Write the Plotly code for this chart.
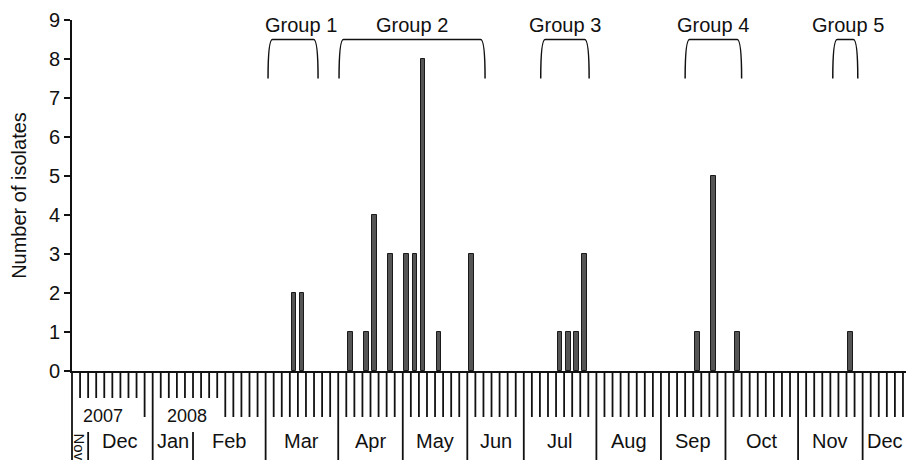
import plotly.graph_objects as go

# ---- data ----
months = ["Nov", "Dec", "Jan", "Feb", "Mar", "Apr", "May", "Jun", "Jul",
          "Aug", "Sep", "Oct", "Nov", "Dec"]
slots_per_month = [2, 8, 5, 9, 9, 8, 8, 7, 9, 8, 8, 9, 8, 5.5]
years = ["2007", "2008"]
year_slot = [3.9, 14.2]

# sampling slot (index along time axis) and number of isolates
isolate_slot = [27, 28, 34, 36, 37, 39, 41, 42, 43, 45, 49, 60, 61, 62, 63, 77, 79, 82, 96]
isolate_count = [2, 2, 1, 1, 4, 3, 3, 3, 8, 1, 3, 1, 1, 1, 3, 1, 5, 1, 1]

group_names = ["Group 1", "Group 2", "Group 3", "Group 4", "Group 5"]
group_start = [24.3, 33.1, 58.1, 76.0, 94.3]
group_end = [30.5, 51.2, 64.1, 83.0, 97.4]
group_label_x = [28.4, 42.1, 61.1, 79.5, 96.2]

# ---- layout constants (page body has an 8px margin) ----
W, H = 906, 452
ML, MR, MT, MB = 64, 7, 12, 89
PH = H - MT - MB
FONT = "Liberation Sans, Arial, sans-serif"
BOTTOM = 89  # px from axis to bottom of window


def below(px):
    return -px / PH


boundaries = []
acc = 0
for n in slots_per_month[:-1]:
    acc += n
    boundaries.append(acc)
total = sum(slots_per_month)

fig = go.Figure()
fig.add_trace(go.Bar(
    x=[s + 0.5 for s in isolate_slot], y=isolate_count, width=0.58,
    marker=dict(color="#555555", line=dict(color="#1a1a1a", width=1)),
    hoverinfo="x+y", showlegend=False))

shapes = []
line_style = dict(color="#111111", width=1.8)
short_ranges = set(list(range(1, 9)) + list(range(11, 19)))
partial_bounds = {2, 15}
for k in range(1, int(total) + 1):
    if k in boundaries and k not in partial_bounds:
        shapes.append(dict(type="line", xref="x", yref="paper", x0=k, x1=k,
                           y0=0, y1=below(BOTTOM), line=line_style))
        continue
    ln = 27 if k in short_ranges else 46
    shapes.append(dict(type="line", xref="x", yref="paper", x0=k, x1=k,
                       y0=0, y1=below(ln), line=line_style))
    if k in partial_bounds:
        shapes.append(dict(type="line", xref="x", yref="paper", x0=k, x1=k,
                           y0=below(61), y1=below(BOTTOM), line=line_style))
# y-axis extension below zero
shapes.append(dict(type="line", xref="paper", yref="paper", x0=0, x1=0,
                   y0=0, y1=below(BOTTOM), line=line_style))

# group brackets
for a, b in zip(group_start, group_end):
    path = (f"M {a},7.5 C {a},8.15 {a+0.15},8.5 {a+0.55},8.5 "
            f"L {b-0.55},8.5 C {b-0.15},8.5 {b},8.15 {b},7.5")
    shapes.append(dict(type="path", xref="x", yref="y", path=path,
                       line=dict(color="#111111", width=1.5)))

annotations = []
start = 0
for i, (m, n) in enumerate(zip(months, slots_per_month)):
    c = start + n / 2
    if i == 0:
        annotations.append(dict(x=c + 0.05, y=below(76), xref="x", yref="paper",
                                xanchor="center", yanchor="middle",
                                text=m, showarrow=False, textangle=90,
                                font=dict(size=15, color="#111", family=FONT)))
    else:
        annotations.append(dict(x=c, y=below(70), xref="x", yref="paper",
                                xanchor="center", yanchor="middle",
                                text=m, showarrow=False,
                                font=dict(size=20, color="#111", family=FONT)))
    start += n
for yname, ys in zip(years, year_slot):
    annotations.append(dict(x=ys, y=below(45), xref="x", yref="paper",
                            xanchor="center", yanchor="middle",
                            text=yname, showarrow=False,
                            font=dict(size=18, color="#111", family=FONT)))
for gname, gx in zip(group_names, group_label_x):
    annotations.append(dict(x=gx, y=8.87, xref="x", yref="y", text=gname,
                            xanchor="center", yanchor="middle",
                            showarrow=False,
                            font=dict(size=20, color="#111", family=FONT)))

fig.update_layout(
    width=W, height=H,
    margin=dict(l=ML, r=MR, t=MT, b=MB, autoexpand=False),
    plot_bgcolor="white", paper_bgcolor="white",
    font=dict(family=FONT, color="#111", size=20),
    shapes=shapes, annotations=annotations,
    xaxis=dict(range=[0, total], showgrid=False, zeroline=False,
               showticklabels=False, ticks="", showline=True,
               linecolor="#111", linewidth=1.6, fixedrange=True),
    yaxis=dict(range=[0, 9], dtick=1, showgrid=False, zeroline=False,
               showline=True, linecolor="#111", linewidth=1.6,
               ticks="outside", ticklen=6, tickwidth=1.5, tickcolor="#111",
               tickfont=dict(size=20, family=FONT, color="#111"),
               title=dict(text="Number of isolates", standoff=18,
                          font=dict(size=20, family=FONT, color="#111")),
               automargin=False, fixedrange=True),
    bargap=0,
)

fig.write_html("out.html")
